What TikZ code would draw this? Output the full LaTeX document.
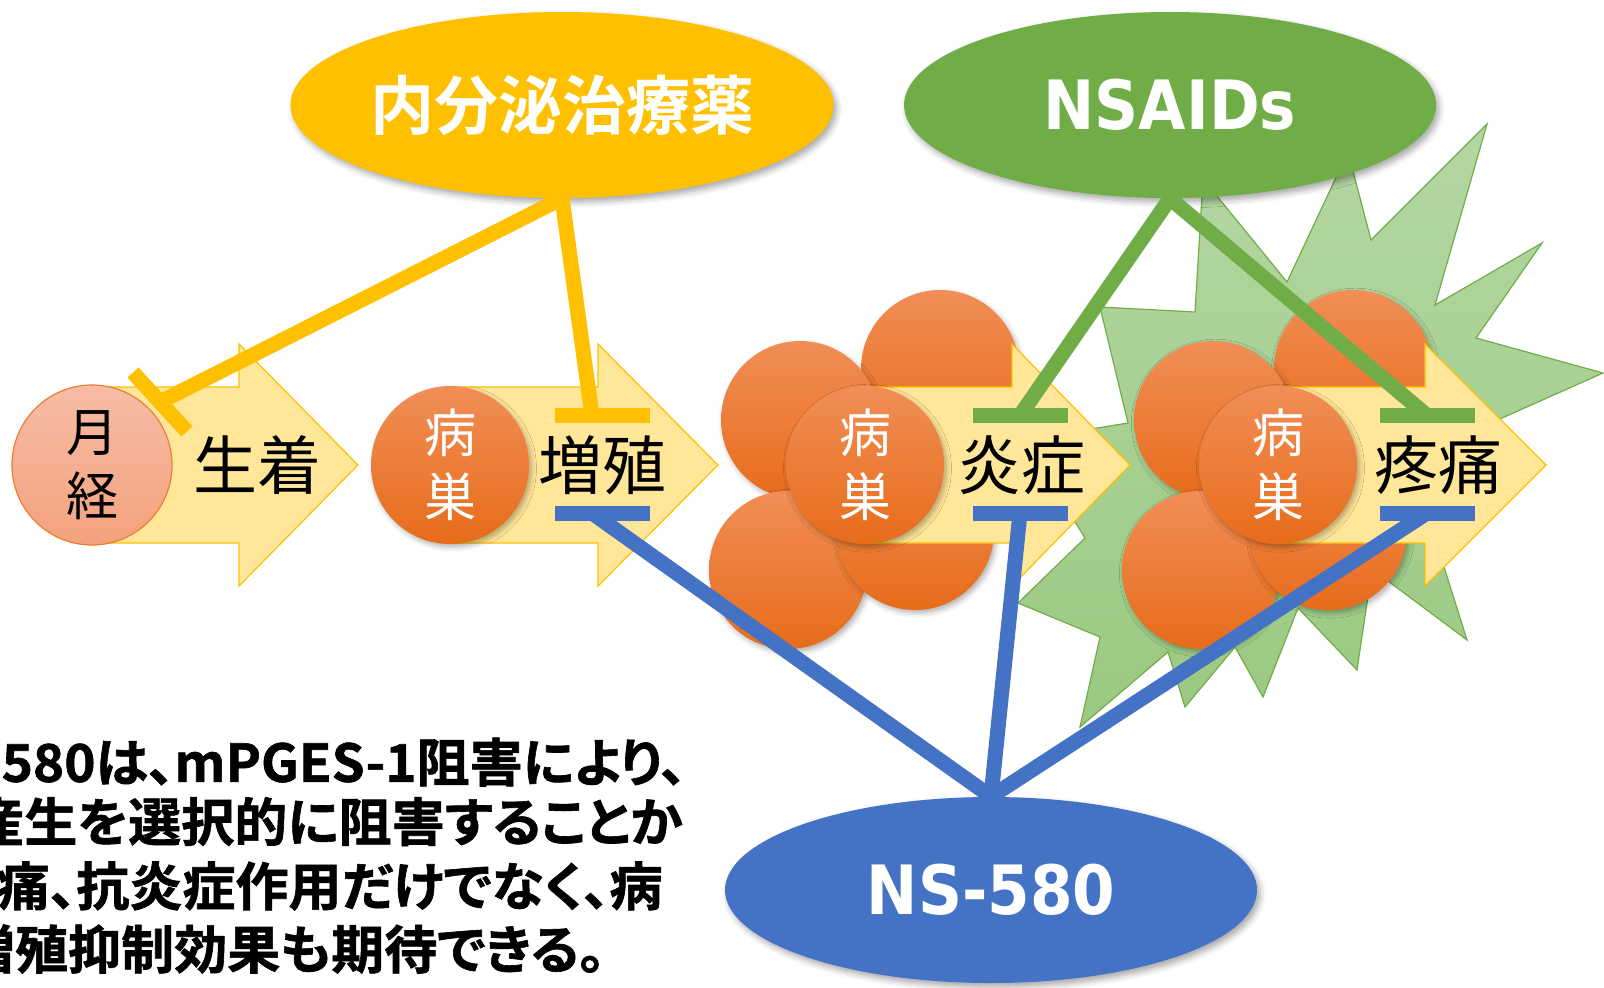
\documentclass[tikz,border=0pt]{standalone}
\usepackage{fontspec}
\newfontfamily\jp{Noto Sans CJK JP}[BoldFont={Noto Sans CJK JP Bold}]
\newfontfamily\notefont{Noto Sans CJK JP Bold}[FakeStretch=1.02, FakeBold=1.2, RawFeature=+palt]
\newfontfamily\tagfont{DejaVu Sans Bold}[FakeStretch=0.9]
\usetikzlibrary{positioning, shapes.geometric, shadows.blur}
\definecolor{hormgold}{RGB}{255,192,0}
\definecolor{nsaidgreen}{RGB}{112,173,71}
\definecolor{nsblue}{RGB}{68,114,196}
\definecolor{flowfill}{RGB}{255,230,153}
\definecolor{lesiontop}{RGB}{241,142,86}
\definecolor{lesionbot}{RGB}{231,108,27}
\definecolor{mensestop}{RGB}{246,188,165}
\definecolor{mensesbot}{RGB}{244,162,126}
\definecolor{mensesline}{RGB}{237,125,49}
\definecolor{bursttop}{RGB}{181,215,163}
\definecolor{burstbot}{RGB}{154,201,129}

\begin{document}
\begin{tikzpicture}[x=0.5pt, y=-0.5pt,
  every node/.style={inner sep=0pt},
  flow/.style={draw=hormgold, line width=0.6pt, fill=flowfill, line join=miter},
  stage/.style={font=\jp\fontsize{32pt}{32pt}\selectfont},
  cell/.style={circle, minimum size=79pt, top color=lesiontop, bottom color=lesionbot,
    blur shadow={shadow xshift=1.2pt, shadow yshift=-1.6pt, shadow blur radius=2.5pt, shadow opacity=30}},
  lesion/.style={cell, text=white, align=center, font=\jp\fontsize{26pt}{32pt}\selectfont},
  drug/.style={ellipse, minimum width=266pt, minimum height=93pt, text=white,
    blur shadow={shadow xshift=1.5pt, shadow yshift=-2pt, shadow blur radius=3pt, shadow opacity=35}},
  inh/.style={rectangle, minimum width=47.5pt, minimum height=7.5pt},
  hit/.style={line width=7.5pt},
  note/.style={anchor=east, font=\notefont\fontsize{26pt}{26pt}\selectfont}
]
\useasboundingbox (0,0) rectangle (1604,987);
\clip (0,0) rectangle (1604,987);

% pain burst behind the last lesion
\shade[top color=bursttop, bottom color=burstbot, draw=nsaidgreen, line width=0.6pt]
  (1487,124) -- (1435,305) -- (1542,243) -- (1476,338) -- (1603,373) -- (1410,459)
  -- (1467,640) -- (1372,569) -- (1357,670) -- (1298,608) -- (1263,697) -- (1235,647)
  -- (1185,707) -- (1168,652) -- (1080,727) -- (1100,637) -- (1018,603) -- (1085,538)
  -- (1024,440) -- (1128,423) -- (1100,307) -- (1195,312) -- (1203,179) -- (1287,282)
  -- (1348,152) -- (1371,240) -- cycle;

% grown lesions: satellite cells
\foreach \dx in {0,413} {
  \node[cell] at (940+\dx,369) {};
  \node[cell] at (800+\dx,420) {};
  \node[cell] at (788+\dx,570) {};
  \node[cell] at (915+\dx,531) {};
}

% stage arrows
\foreach \s/\b/\t in {92/239/358, 450/598/718, 865/1012/1130, 1278/1425/1546}
  \draw[flow] (\s,387) -- (\b,387) -- (\b,344) -- (\t,465) -- (\b,586) -- (\b,543) -- (\s,543) -- cycle;

\node[circle, minimum size=80pt, top color=mensestop, bottom color=mensesbot, draw=mensesline,
  line width=0.6pt, align=center, font=\jp\fontsize{26pt}{32pt}\selectfont] (menses) at (92,465) {月\\経};
\node[lesion] (nidusA) at (450,465) {病\\巣};
\node[lesion] (nidusB) at (865,465) {病\\巣};
\node[lesion] (nidusC) at (1278,465) {病\\巣};

\node[stage] (attach) at (257,465) {生着};
\node[stage] (grow) at (602,465) {増殖};
\node[stage] (inflam) at (1021,465) {炎症};
\node[stage] (pain) at (1438,465) {疼痛};

% drugs
\node[drug, fill=hormgold, font=\jp\bfseries\fontsize{32pt}{32pt}\selectfont] (horm) at (562,105) {内分泌治療薬};
\node[drug, fill=nsaidgreen, font=\tagfont\fontsize{34pt}{34pt}\selectfont] (nsaid) at (1170,105) {NSAIDs};
\node[drug, fill=nsblue, font=\tagfont\fontsize{34pt}{34pt}\selectfont] (ns) at (991,890) {NS-580};

% inhibition bars
\node[inh, fill=hormgold, minimum width=40pt, rotate=-47.5] (inhY1) at (160,402) {};
\node[inh, fill=hormgold] (inhY2) at (602,415.5) {};
\node[inh, fill=nsaidgreen] (inhG3) at (1020,415.5) {};
\node[inh, fill=nsaidgreen] (inhG4) at (1427,415.5) {};
\node[inh, fill=nsblue] (inhB2) at (602,513) {};
\node[inh, fill=nsblue] (inhB3) at (1020,513) {};
\node[inh, fill=nsblue] (inhB4) at (1427,513) {};

\draw[hit, hormgold] (horm.south) -- (inhY1.center);
\draw[hit, hormgold] (horm.south) -- ([xshift=-5pt]inhY2.center);
\draw[hit, nsaidgreen] (nsaid.south) -- (inhG3.center);
\draw[hit, nsaidgreen] (nsaid.south) -- (inhG4.center);
\draw[hit, nsblue] (ns.north) -- ([xshift=-5pt]inhB2.center);
\draw[hit, nsblue] (ns.north) -- (inhB3.center);
\draw[hit, nsblue] (ns.north) -- (inhB4.center);

% summary
\node[note] (l1) at (687,762) {NS-580は、mPGES-1阻害により、};
\node[note] (l2) at (683,824) {PGE\textsubscript{2}産生を選択的に阻害することか};
\node[note] (l3) at (663,886) {ら鎮痛、抗炎症作用だけでなく、病};
\node[note] (l4) at (606,949) {巣増殖抑制効果も期待できる。};
\end{tikzpicture}
\end{document}
